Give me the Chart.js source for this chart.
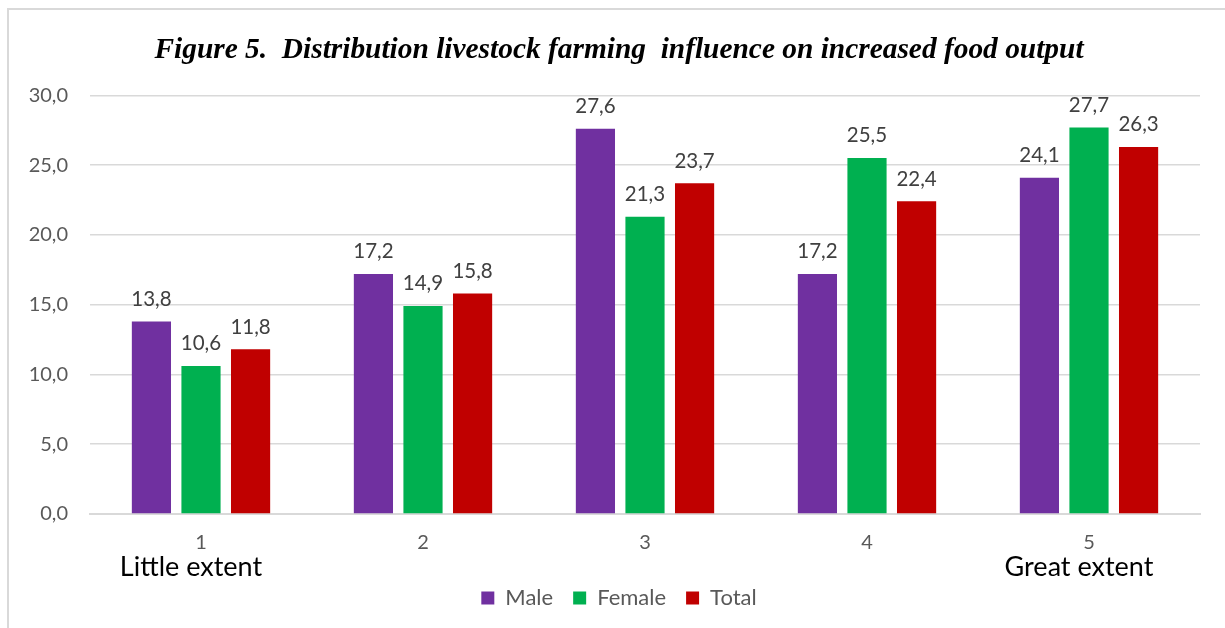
<!DOCTYPE html>
<html>
<head>
<meta charset="utf-8">
<script src="https://cdn.jsdelivr.net/npm/chart.js@4"></script>
<style>
  html, body { margin:0; padding:0; background:#fff; overflow:hidden; }
  #frame {
    position:absolute; left:7px; top:8px;
    width:1240px; height:640px;
    border:2px solid #d9d9d9;
  }
  #wrap { position:absolute; left:0; top:0; width:1225px; height:628px; }
</style>
</head>
<body>
<div id="frame"></div>
<div id="wrap"><canvas id="chart"></canvas></div>
<script>
// categories and series
const categories = ["1", "2", "3", "4", "5"];
const extentLabels = ["Little extent", "", "", "", "Great extent"];
const male = [13.8, 17.2, 27.6, 17.2, 24.1];
const female = [10.6, 14.9, 21.3, 25.5, 27.7];
const total = [11.8, 15.8, 23.7, 22.4, 26.3];

const comma = v => v.toFixed(1).replace(".", ",");

// value labels above each bar
const barLabels = {
    id: "barLabels",
    afterDatasetsDraw(chart) {
        const ctx = chart.ctx;
        ctx.save();
        ctx.font = "20.5px Lato";
        ctx.fillStyle = "#404040";
        ctx.textAlign = "center";
        ctx.textBaseline = "bottom";
        chart.data.datasets.forEach((ds, i) => {
            chart.getDatasetMeta(i).data.forEach((el, j) => {
                ctx.fillText(comma(ds.data[j]), el.x, el.y - 12);
            });
        });
        ctx.restore();
    }
};

// "Little extent" / "Great extent" under the ticks (sit a bit left of the tick)
const extentText = {
    id: "extentText",
    afterDraw(chart) {
        const ctx = chart.ctx;
        const x = chart.scales.x;
        ctx.save();
        ctx.font = "27px Lato";
        ctx.fillStyle = "#000";
        ctx.textAlign = "center";
        ctx.textBaseline = "middle";
        extentLabels.forEach((t, i) => {
            if (t) ctx.fillText(t, x.getPixelForValue(i) - 10, x.top + 53);
        });
        ctx.restore();
    }
};

new Chart(document.getElementById("chart"), {
    type: "bar",
    data: {
        labels: categories,
        datasets: [
            { label: "Male", data: male, backgroundColor: "#7030A0" },
            { label: "Female", data: female, backgroundColor: "#00B050" },
            { label: "Total", data: total, backgroundColor: "#C00000" }
        ]
    },
    options: {
        responsive: true,
        maintainAspectRatio: false,
        animation: false,
        datasets: {
            bar: { categoryPercentage: 0.67, barPercentage: 0.79 }
        },
        layout: { padding: { left: 13, right: 0, top: 10, bottom: 9 } },
        plugins: {
            title: {
                display: true,
                text: "Figure 5.  Distribution livestock farming  influence on increased food output",
                color: "#000",
                font: { family: "Liberation Serif", size: 29.4, style: "italic", weight: "bold" },
                padding: { top: 23, bottom: 27 }
            },
            legend: {
                position: "bottom",
                labels: {
                    color: "#595959",
                    font: { family: "Lato", size: 22 },
                    boxWidth: 13,
                    boxHeight: 13,
                    padding: 20
                }
            },
            tooltip: { enabled: false }
        },
        scales: {
            x: {
                grid: { display: false, drawTicks: false },
                border: { color: "#d9d9d9", width: 2 },
                ticks: { color: "#595959", font: { family: "Lato", size: 20 }, padding: 17 },
                afterFit: s => { s.height -= 5; }
            },
            y: {
                min: 0,
                max: 30,
                grid: { color: "#d9d9d9", lineWidth: 1.5, drawTicks: false },
                border: { display: false },
                ticks: {
                    stepSize: 5,
                    color: "#595959",
                    font: { family: "Lato", size: 20 },
                    padding: 22,
                    callback: v => comma(v)
                },
                afterFit: s => { s.width = 77; }
            },
            // empty right-hand gutter
            y2: {
                position: "right",
                grid: { display: false },
                border: { display: false },
                ticks: { display: false },
                afterFit: s => { s.width = 25; }
            }
        }
    },
    plugins: [barLabels, extentText]
});
</script>
</body>
</html>
